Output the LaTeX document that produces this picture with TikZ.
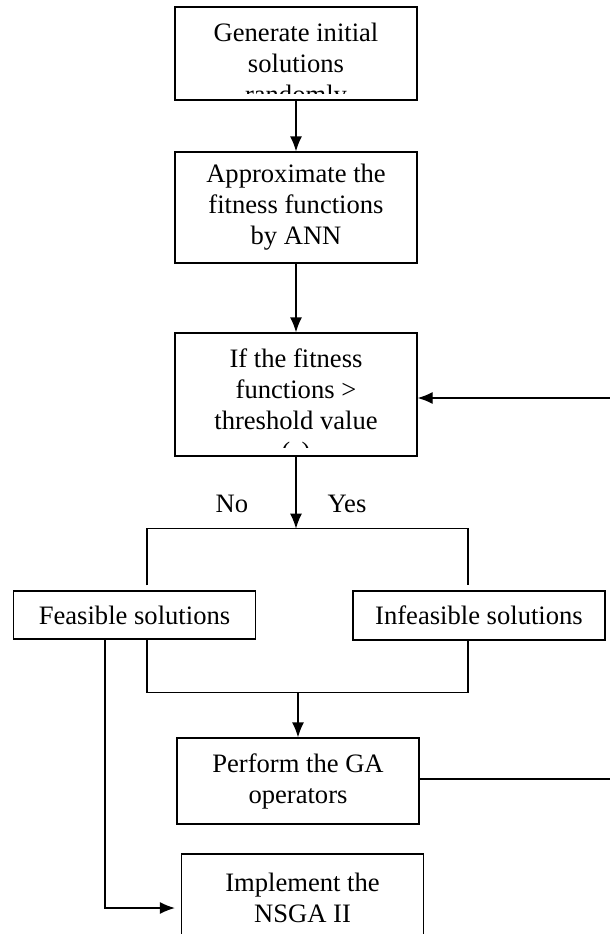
\documentclass[tikz,border=0pt]{standalone}
\usepackage{fontspec}
\setmainfont{Liberation Serif}
\usetikzlibrary{positioning,arrows.meta}
\newcommand\flowfont{\fontsize{26.6pt}{31pt}\selectfont}

\begin{document}
\begin{tikzpicture}[-{Latex[length=15pt,width=12pt]}, x=1pt, y=1pt, on grid,
line width=1.3pt,
box/.style ={ rectangle, draw, minimum width=242pt, inner sep=0pt,
align=center, font=\flowfont},
txt/.style ={ font=\flowfont, inner sep=0pt, align=center}]
\useasboundingbox (0,0) rectangle (610,-934);
\node[box, minimum height=93pt] (gen) at (296,-53.5) {};
\node[box, minimum height=111pt] (approx) [below = 154pt of gen] {Approximate the\\fitness functions\\by ANN};
\node[box, minimum height=123pt] (thresh) [below = 187pt of approx] {};
\node[box, minimum height=48pt] (feas) [below left = 220.5pt and 161.5pt of thresh] {Feasible solutions};
\node[box, minimum height=49pt, minimum width=252pt] (infeas) [below right = 221pt and 183pt of thresh] {Infeasible solutions};
\node[box, minimum height=86pt] (perform) [below right = 386.5pt and 2pt of thresh] {Perform the GA\\operators};
\node[box, minimum height=88pt] (impl) [below right = 117pt and 4.5pt of perform] {Implement the\\NSGA II};

% text cut off at the bottom of the box
\begin{scope}
\clip ([yshift=7pt]gen.south west) rectangle (gen.north east);
\node[txt] (gentext) at ([yshift=-13pt]gen.center) {Generate initial\\solutions\\randomly};
\end{scope}
\begin{scope}
\clip ([yshift=9pt]thresh.south west) rectangle (thresh.north east);
\node[txt] (threshtext) at ([yshift=-13pt]thresh.center) {If the fitness\\functions >\\threshold value\\($\varepsilon$)};
\end{scope}

\draw (gen) -- (approx);
\draw (approx) -- (thresh);
\coordinate (split) at ([yshift=-72pt]thresh.south);
\draw (thresh) -- (split);
\node[txt, anchor=base] (no) at ([xshift=-64pt,yshift=16.5pt]split) {No};
\node[txt, anchor=base] (yes) at ([xshift=51pt,yshift=16.5pt]split) {Yes};
\draw[-] ([xshift=12.5pt,yshift=5pt]feas.north) |- (split) -| ([xshift=-11pt,yshift=5pt]infeas.north);

\coordinate (join) at ([yshift=45pt]perform.north);
\draw[-] ([xshift=12.5pt]feas.south) |- (join) -| ([xshift=-11pt]infeas.south);
\draw (join) -- (perform);
\draw ([xshift=-29.5pt]feas.south) |- ([xshift=-6pt,yshift=-10pt]impl.west);

% loop back, cut by the page edge
\coordinate (loopin) at (610,-398);
\coordinate (loopout) at (610,-779);
\draw (loopin) -- ([yshift=-3.5pt]thresh.east);
\draw[-] ([yshift=2pt]perform.east) -- (loopout);
\end{tikzpicture}
\end{document}
